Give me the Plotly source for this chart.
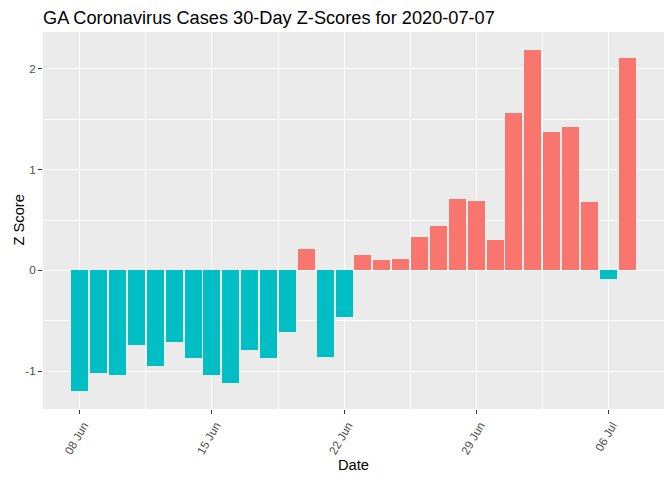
import plotly.graph_objects as go
import pandas as pd

dates = pd.date_range("2020-06-08", "2020-07-07", freq="D").strftime("%Y-%m-%d").tolist()
z_scores = [
    -1.20, -1.02, -1.04, -0.74, -0.95, -0.71, -0.865, -1.04, -1.12, -0.79,
    -0.865, -0.61, 0.21, -0.855, -0.46, 0.149, 0.10, 0.109, 0.327, 0.436,
    0.713, 0.693, 0.297, 1.565, 2.19, 1.377, 1.427, 0.683, -0.086, 2.11,
]
y_tick_vals = [-1, 0, 1, 2]
y_tick_text = ["-1", "0", "1", "2"]
x_tick_vals = ["2020-06-08", "2020-06-15", "2020-06-22", "2020-06-29", "2020-07-06"]
x_tick_text = ["08 Jun", "15 Jun", "22 Jun", "29 Jun", "06 Jul"]

POS = "#F8766D"
NEG = "#00BFC4"
colors = [POS if v > 0 else NEG for v in z_scores]
DAY_MS = 86400000

# page has an 8px body margin, so the figure is drawn 8px in from the top-left
W, H = 664, 472
ML, MR, MT, MB = 35, 8, 24, 71
PW, PH = W - ML - MR, H - MT - MB

fig = go.Figure(
    go.Bar(
        x=dates,
        y=z_scores,
        marker=dict(color=colors, line=dict(width=0)),
        width=0.9 * DAY_MS,
        showlegend=False,
    )
)

x0 = pd.Timestamp("2020-06-08") - pd.Timedelta(days=1.95)
x1 = pd.Timestamp("2020-07-07") + pd.Timedelta(days=1.95)

fig.update_layout(
    width=W,
    height=H,
    margin=dict(l=ML, r=MR, t=MT, b=MB, autoexpand=False),
    paper_bgcolor="white",
    plot_bgcolor="#EBEBEB",
    font=dict(family="Liberation Sans, Arial, sans-serif", color="black"),
    title=dict(
        text="GA Coronavirus Cases 30-Day Z-Scores for 2020-07-07",
        x=ML / W,
        xanchor="left",
        xref="container",
        y=1 - 9.5 / H,
        yref="container",
        yanchor="middle",
        font=dict(size=18.2, color="black"),
    ),
    bargap=0,
    annotations=[
        dict(
            text="Date", xref="paper", yref="paper",
            x=0.5, y=-(457 - (H - MB)) / PH,
            xanchor="center", yanchor="middle", showarrow=False,
            font=dict(size=14.7, color="black"),
        ),
        dict(
            text="Z Score", xref="paper", yref="paper",
            x=-(ML - 10) / PW, y=0.5,
            xanchor="center", yanchor="middle", showarrow=False, textangle=-90,
            font=dict(size=14.7, color="black"),
        ),
    ],
)

fig.update_xaxes(
    type="date",
    automargin=False,
    range=[x0.strftime("%Y-%m-%d %H:%M:%S"), x1.strftime("%Y-%m-%d %H:%M:%S")],
    tickmode="array",
    tickvals=x_tick_vals,
    ticktext=x_tick_text,
    tickangle=-60,
    ticklabelshift=4,
    tickfont=dict(size=11.7, color="#4D4D4D"),
    ticks="outside",
    ticklen=4,
    tickwidth=1,
    tickcolor="#333333",
    showgrid=True,
    gridcolor="white",
    gridwidth=1.1,
    minor=dict(
        tickmode="array",
        tickvals=["2020-06-04 12:00", "2020-06-11 12:00", "2020-06-18 12:00",
                  "2020-06-25 12:00", "2020-07-02 12:00", "2020-07-09 12:00"],
        showgrid=True,
        gridcolor="white",
        gridwidth=0.55,
        ticks="",
    ),
    zeroline=False,
    showline=False,
)

fig.update_yaxes(
    automargin=False,
    range=[-1.376, 2.366],
    tickmode="array",
    tickvals=y_tick_vals,
    ticktext=y_tick_text,
    tickfont=dict(size=11.7, color="#4D4D4D"),
    ticks="outside",
    ticklen=4,
    tickwidth=1,
    tickcolor="#333333",
    showgrid=True,
    gridcolor="white",
    gridwidth=1.1,
    minor=dict(
        tickmode="array",
        tickvals=[-0.5, 0.5, 1.5],
        showgrid=True,
        gridcolor="white",
        gridwidth=0.55,
        ticks="",
    ),
    zeroline=False,
    showline=False,
)

fig.write_html("out.html")
